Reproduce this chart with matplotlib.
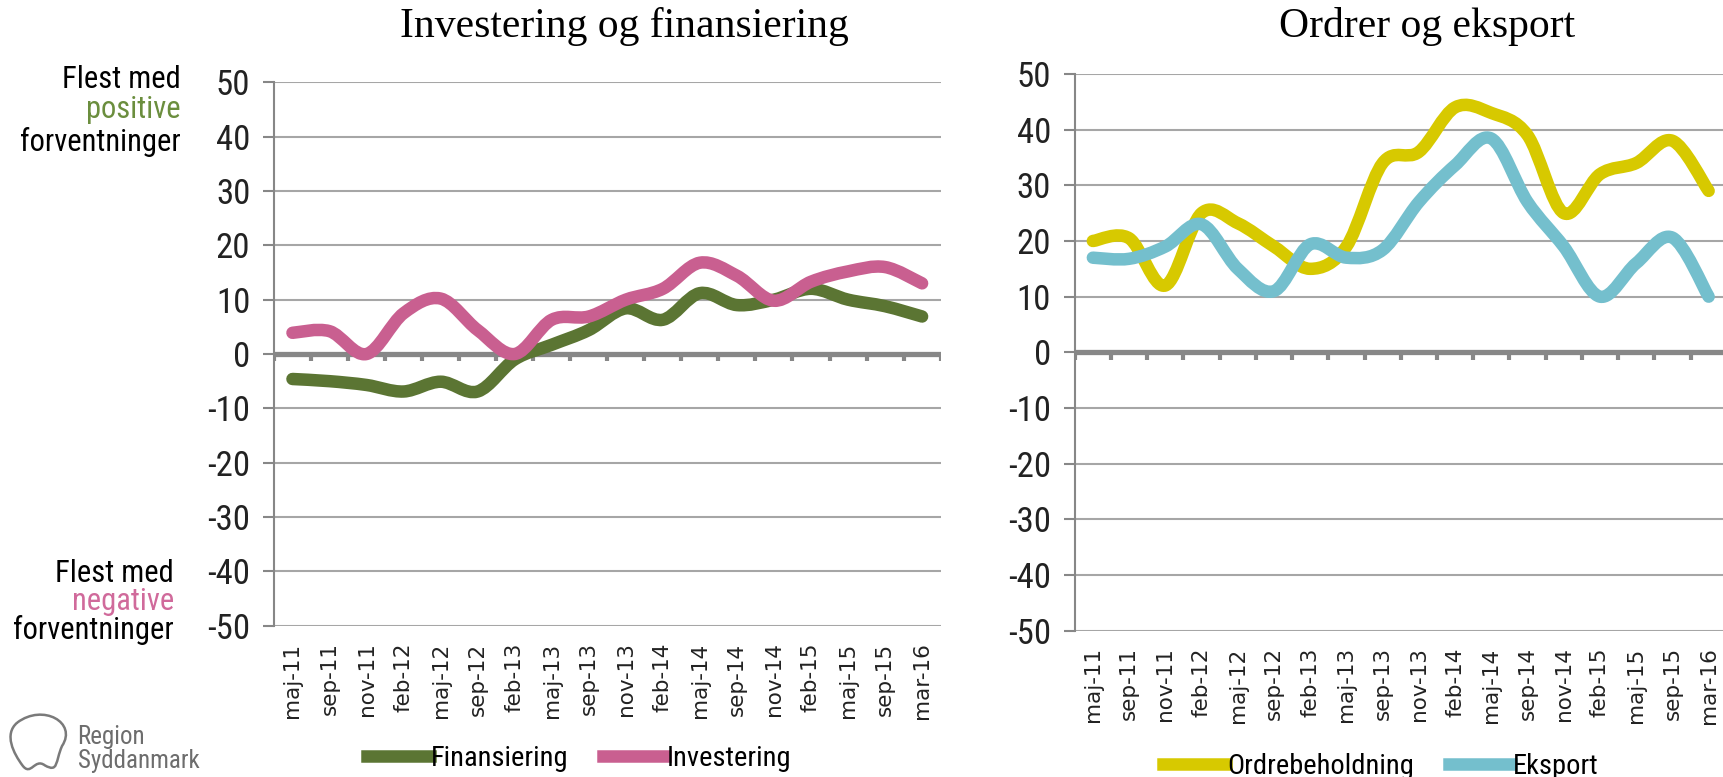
import numpy as np
import matplotlib.pyplot as plt
from matplotlib.path import Path
from matplotlib.patches import PathPatch
from matplotlib.lines import Line2D

plt.rcParams['axes.unicode_minus'] = False

NARROW = ['Roboto Condensed', 'Lato', 'DejaVu Sans']
SERIF = ['Liberation Serif', 'DejaVu Serif']

months = ['maj-11', 'sep-11', 'nov-11', 'feb-12', 'maj-12', 'sep-12', 'feb-13', 'maj-13', 'sep-13',
          'nov-13', 'feb-14', 'maj-14', 'sep-14', 'nov-14', 'feb-15', 'maj-15', 'sep-15', 'mar-16']

finansiering = [-4.6, -5.0, -5.7, -6.9, -5.1, -6.9, -1.0, 1.7, 4.4, 8.4, 6.3, 11.2, 9.0, 10.0, 12.0, 10.0, 8.8, 6.9]
investering = [3.9, 4.2, 0.0, 7.5, 10.2, 4.4, 0.0, 6.3, 6.9, 10.0, 12.0, 16.8, 14.4, 9.8, 13.3, 15.2, 16.0, 13.0]

ordrebeholdning = [20.0, 20.5, 12.0, 25.0, 23.2, 19.0, 15.0, 19.0, 34.0, 36.0, 44.0, 43.0, 39.0, 25.0, 32.0, 34.0, 38.0, 29.0]
eksport = [17.0, 16.8, 19.0, 23.0, 15.0, 11.0, 19.4, 17.0, 18.4, 27.0, 33.6, 38.4, 27.0, 19.0, 10.0, 16.0, 20.6, 10.0]

GREEN = '#5B7533'
PINK = '#C95F90'
YELLOW = '#D7C900'
BLUE = '#74BFCD'
GRID = '#A6A6A6'
AXIS = '#878787'


def smooth_path(ys):
    # Excel style smoothed line: cubic bezier through every point
    pts = np.column_stack([np.arange(len(ys)), ys]).astype(float)
    verts = [pts[0]]
    codes = [Path.MOVETO]
    n = len(pts)
    for i in range(n - 1):
        p_prev = pts[max(i - 1, 0)]
        p_next = pts[min(i + 2, n - 1)]
        c1 = pts[i] + (pts[i + 1] - p_prev) / 6
        c2 = pts[i + 1] - (p_next - pts[i]) / 6
        verts += [c1, c2, pts[i + 1]]
        codes += [Path.CURVE4] * 3
    return Path(verts, codes)


def draw_panel(ax, series, colors):
    ax.set_xlim(-0.5, len(months) - 0.5)
    ax.set_ylim(-50, 50)
    ax.set_yticks(range(-50, 51, 10))
    ax.grid(axis='y', color=GRID, lw=1.5)
    ax.set_axisbelow(True)
    for s in ['top', 'right', 'bottom']:
        ax.spines[s].set_visible(False)
    ax.spines['left'].set_color(AXIS)
    ax.spines['left'].set_linewidth(1.5)
    ax.tick_params(axis='y', length=8, width=1.5, color=AXIS, pad=9, labelsize=25)
    for lab in ax.get_yticklabels():
        lab.set_family(NARROW)
        lab.set_color('#222222')
    ax.set_xticks(range(len(months)))
    ax.set_xticklabels(months, rotation=90, fontsize=15.5, family='DejaVu Sans', color='#222222')
    ax.tick_params(axis='x', length=0, pad=12)
    ax.axhline(0, color=AXIS, lw=3.8, zorder=2)
    bounds = np.arange(len(months) + 1) - 0.5
    ax.vlines(bounds, -1.3, 0, color=AXIS, lw=3, zorder=2)
    for ys, c in zip(series, colors):
        ax.add_patch(PathPatch(smooth_path(ys), fill=False, edgecolor=c, lw=9,
                               capstyle='round', joinstyle='round', zorder=3))


fig = plt.figure(figsize=(17.24, 7.77), dpi=100)

ax1 = fig.add_axes([0.1589, 0.1947, 0.3867, 0.6994])
draw_panel(ax1, [finansiering, investering], [GREEN, PINK])

ax2 = fig.add_axes([0.6234, 0.1883, 0.3782, 0.7165])
draw_panel(ax2, [ordrebeholdning, eksport], [YELLOW, BLUE])

fig.text(0.362, 0.966, 'Investering og finansiering', ha='center', va='center', fontsize=30, family=SERIF)
fig.text(0.828, 0.966, 'Ordrer og eksport', ha='center', va='center', fontsize=30, family=SERIF)

# side labels
for txt, y, c in [('Flest med', 79, 'black'), ('positive', 110, '#6B8E3E'), ('forventninger', 142, 'black')]:
    fig.text(0.105, 1 - y / 777, txt, ha='right', va='center', fontsize=22, family=NARROW, color=c)
for txt, y, c in [('Flest med', 573, 'black'), ('negative', 602, '#D06A9B'), ('forventninger', 630, 'black')]:
    fig.text(0.101, 1 - y / 777, txt, ha='right', va='center', fontsize=22, family=NARROW, color=c)

# legends
leg_kw = dict(loc='center', ncol=2, frameon=False, handlelength=2.2, handletextpad=0.05,
              columnspacing=1.2, prop={'family': NARROW, 'size': 20.5})
fig.legend([Line2D([], [], color=GREEN, lw=9), Line2D([], [], color=PINK, lw=9)],
           ['Finansiering', 'Investering'], bbox_to_anchor=(0.336, 0.024), **leg_kw)
fig.legend([Line2D([], [], color=YELLOW, lw=9), Line2D([], [], color=BLUE, lw=9)],
           ['Ordrebeholdning', 'Eksport'], bbox_to_anchor=(0.801, 0.014), **leg_kw)

# logo
fig.text(0.045, 1 - 737 / 777, 'Region', ha='left', va='center', fontsize=18, family=NARROW, color='#6D6D6D')
fig.text(0.045, 1 - 761 / 777, 'Syddanmark', ha='left', va='center', fontsize=18, family=NARROW, color='#6D6D6D')
logo = Path([(0.010, 0.070), (0.025, 0.095), (0.045, 0.070), (0.036, 0.040),
             (0.032, 0.020), (0.034, 0.005), (0.026, 0.015),
             (0.020, 0.025), (0.018, 0.000), (0.013, 0.015),
             (0.008, 0.030), (0.002, 0.055), (0.010, 0.070)],
            [Path.MOVETO] + [Path.CURVE4] * 12)
fig.add_artist(PathPatch(logo, fill=False, edgecolor='#7A7A7A', lw=1.8, transform=fig.transFigure))

fig.savefig('out.png', dpi=100)
